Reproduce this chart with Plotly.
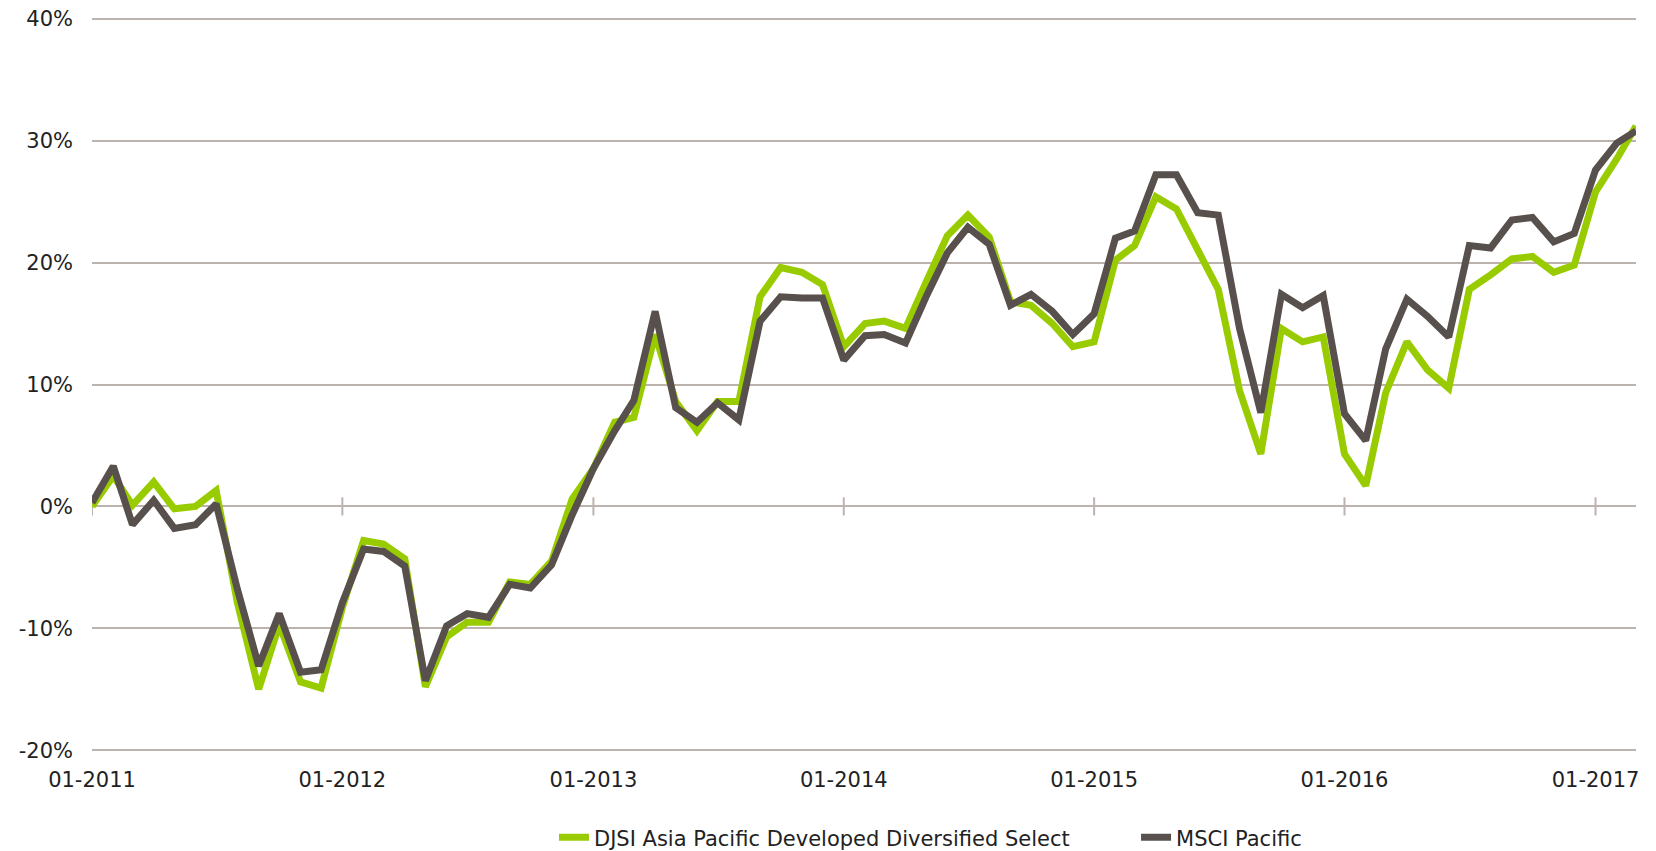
import pandas as pd
import plotly.graph_objects as go

# Monthly dates 01-2011 .. 03-2017
dates = pd.date_range("2011-01-01", "2017-03-01", freq="MS").strftime("%Y-%m-%d").tolist()

djsi = [0.0, 2.5, 0.1, 2.0, -0.2, 0.0, 1.3, -7.9, -15.0, -9.7, -14.4, -14.9,
        -8.3, -2.8, -3.1, -4.3, -14.8, -10.7, -9.5, -9.5, -6.2, -6.4, -4.5, 0.6,
        3.1, 6.9, 7.3, 14.1, 8.6, 6.2, 8.6, 8.6, 17.2, 19.6, 19.2, 18.2,
        13.1, 15.0, 15.2, 14.6, 18.4, 22.2, 23.9, 22.1, 16.8, 16.5, 15.0, 13.1,
        13.5, 20.2, 21.4, 25.4, 24.4, 21.1, 17.8, 9.5, 4.3, 14.6, 13.5, 13.9,
        4.3, 1.7, 9.3, 13.5, 11.2, 9.7, 17.8, 19.0, 20.3, 20.5, 19.2, 19.8,
        25.8, 28.5, 31.2]

msci = [0.3, 3.3, -1.5, 0.5, -1.8, -1.5, 0.2, -6.8, -13.1, -8.8, -13.6, -13.4,
        -7.9, -3.5, -3.7, -4.9, -14.3, -9.8, -8.8, -9.1, -6.4, -6.7, -4.8, -0.7,
        3.1, 6.2, 8.7, 16.0, 8.1, 6.9, 8.5, 7.1, 15.2, 17.2, 17.1, 17.1,
        12.0, 14.0, 14.1, 13.4, 17.2, 20.8, 22.9, 21.5, 16.5, 17.4, 16.0, 14.1,
        15.8, 22.0, 22.6, 27.2, 27.2, 24.1, 23.9, 14.6, 7.7, 17.4, 16.3, 17.3,
        7.6, 5.4, 12.9, 17.0, 15.6, 13.9, 21.4, 21.2, 23.5, 23.7, 21.7, 22.4,
        27.6, 29.8, 30.8]

series_names = ["DJSI Asia Pacific Developed Diversified Select", "MSCI Pacific"]
series_colors = ["#99cc00", "#57504c"]

y_ticks = [-20, -10, 0, 10, 20, 30, 40]
y_labels = [f"{v}%" for v in y_ticks]
x_ticks = ["2011-01-01", "2012-01-01", "2013-01-01", "2014-01-01",
           "2015-01-01", "2016-01-01", "2017-01-01"]
x_labels = ["01-2011", "01-2012", "01-2013", "01-2014", "01-2015", "01-2016", "01-2017"]

grid_color = "#bdb3ae"
font_family = "DejaVu Sans"
text_color = "#222222"

fig = go.Figure()

# year tick marks crossing the 0% line (category axis crossing)
fig.add_trace(go.Scatter(x=x_ticks, y=[0] * len(x_ticks), mode="markers",
                         marker=dict(symbol="line-ns-open", size=13, color=grid_color,
                                     line=dict(color=grid_color, width=2)),
                         showlegend=False, hoverinfo="skip"))

legend_ids = ["legend", "legend2"]
for name, vals, col, lg in zip(series_names, [djsi, msci], series_colors, legend_ids):
    fig.add_trace(go.Scatter(x=dates, y=vals, mode="lines", name=name, legend=lg,
                             line=dict(color=col, width=7)))

legend_font = dict(family=font_family, size=21, color=text_color)
fig.update_layout(
    width=1656, height=851,
    margin=dict(l=84, r=28, t=8.5, b=107.2, autoexpand=False),
    plot_bgcolor="white", paper_bgcolor="white",
    font=dict(family=font_family, size=21, color=text_color),
    showlegend=True,
    legend=dict(orientation="h", x=0.2992, xanchor="left", y=-0.1166, yanchor="middle",
                font=legend_font, bgcolor="rgba(0,0,0,0)"),
    legend2=dict(orientation="h", x=0.6762, xanchor="left", y=-0.1166, yanchor="middle",
                 font=legend_font, bgcolor="rgba(0,0,0,0)"),
    xaxis=dict(type="date", range=["2011-01-01", "2017-03-01"],
               tickvals=x_ticks, ticktext=x_labels,
               showgrid=False, zeroline=False, showline=False, ticks="",
               ticklabelstandoff=13, ticklabeloverflow="allow"),
    yaxis=dict(range=[-20.15, 40.15], tickvals=y_ticks, ticktext=y_labels,
               showgrid=True, gridcolor=grid_color, gridwidth=2,
               zeroline=False, showline=False, ticks="",
               ticklabelstandoff=18, ticklabeloverflow="allow"),
)

fig.write_html("out.html")
